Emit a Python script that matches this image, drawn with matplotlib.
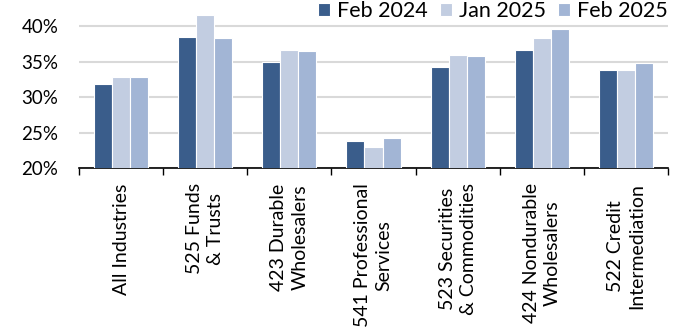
import numpy as np
import matplotlib.pyplot as plt

categories = ["All Industries", "525 Funds\n& Trusts", "423 Durable\nWholesalers",
              "541 Professional\nServices", "523 Securities\n& Commodities",
              "424 Nondurable\nWholesalers", "522 Credit\nIntermediation"]
series_names = ["Feb 2024", "Jan 2025", "Feb 2025"]
feb_2024 = [31.8, 38.5, 35.0, 23.8, 34.3, 36.7, 33.8]
jan_2025 = [32.9, 41.6, 36.7, 23.0, 35.9, 38.4, 33.8]
feb_2025 = [32.9, 38.3, 36.5, 24.3, 35.8, 39.6, 34.8]
yticks = [20, 25, 30, 35, 40]

colors = ["#3A5D8B", "#C2CDE1", "#A2B5D5"]

plt.rcParams['font.family'] = ['Lato', 'DejaVu Sans']

fig = plt.figure(figsize=(6.81, 3.29), dpi=100)
ax = fig.add_axes([79 / 681, 1 - 168 / 329, (668 - 79) / 681, (168 - 5) / 329])

x = np.arange(len(categories))
w = 0.215
for i, (vals, name) in enumerate(zip([feb_2024, jan_2025, feb_2025], series_names)):
    ax.bar(x + (i - 1) * w, vals, width=w, color=colors[i], edgecolor="white",
           linewidth=0.8, label=name, zorder=3)

ax.set_xlim(-0.5, len(categories) - 0.5)
ax.set_ylim(20, 20 + (168 - 5) / 7.08)
ax.set_yticks(yticks)
ax.set_yticklabels([f"{t}%" for t in yticks], fontsize=13.5)
ax.yaxis.grid(True, color="#D9D9D9", linewidth=1.5, zorder=0)
ax.tick_params(axis="y", length=0, pad=15)

ax.set_xticks(x)
ax.set_xticklabels(categories, rotation=90, fontsize=14, ha="center", va="top",
                   linespacing=1.3, multialignment="center")
ax.tick_params(axis="x", which="major", length=0, pad=11)
ax.set_xticks(np.arange(-0.5, len(categories)), minor=True)
ax.tick_params(axis="x", which="minor", length=5, width=1, direction="out")

for s in ["top", "right", "left"]:
    ax.spines[s].set_visible(False)
ax.spines["bottom"].set_linewidth(1.2)

ax.legend(loc="upper right", bbox_to_anchor=(1.0, 1.0 + 4 / 163), ncol=3, frameon=False,
          fontsize=15.5, handlelength=0.55, handleheight=0.55, handletextpad=0.35,
          columnspacing=0.55, borderaxespad=0, borderpad=0)

fig.savefig("out.png", dpi=100)
